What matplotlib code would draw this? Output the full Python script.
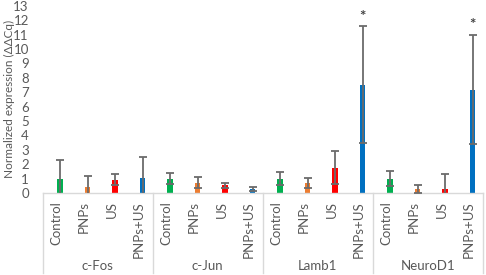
import matplotlib
matplotlib.use("Agg")
import matplotlib.pyplot as plt
import matplotlib.transforms as mtransforms

plt.rcParams['font.family'] = ['Lato', 'DejaVu Sans']

genes = ['c-Fos', 'c-Jun', 'Lamb1', 'NeuroD1']
treatments = ['Control', 'PNPs', 'US', 'PNPs+US']
colors = ['#00B050', '#ED7D31', '#FF0000', '#0070C0']

# mean expression per gene, in treatment order
means = {
    'c-Fos':   [1.0, 0.40, 0.92, 1.02],
    'c-Jun':   [1.0, 0.72, 0.52, 0.27],
    'Lamb1':   [1.0, 0.68, 1.76, 7.53],
    'NeuroD1': [1.0, 0.27, 0.28, 7.18],
}
errors = {
    'c-Fos':   [1.30, 0.80, 0.40, 1.45],
    'c-Jun':   [0.38, 0.40, 0.20, 0.14],
    'Lamb1':   [0.48, 0.37, 1.14, 4.04],
    'NeuroD1': [0.53, 0.25, 1.04, 3.79],
}
# significance marks (gene, treatment)
stars = [('Lamb1', 'PNPs+US'), ('NeuroD1', 'PNPs+US')]

text_col = '#595959'
line_col = '#D9D9D9'

fig = plt.figure(figsize=(4.86, 2.75), dpi=100)
ax = fig.add_axes([0.0879, 0.2985, 0.9053, 0.68])

nt = len(treatments)
for g, gene in enumerate(genes):
    for t, treat in enumerate(treatments):
        k = g * nt + t
        x = k + 0.13
        ax.bar(x, means[gene][t], width=0.21, color=colors[t], zorder=2)
        ax.errorbar(x, means[gene][t], yerr=errors[gene][t], fmt='none',
                    ecolor='#6b6b6b', elinewidth=1.3, capsize=2.8,
                    capthick=1.3, zorder=3)
        if (gene, treat) in stars:
            ax.text(x, means[gene][t] + errors[gene][t] + 0.2, '*',
                    ha='center', va='bottom', fontsize=11, fontweight='bold',
                    color='#404040')

ax.set_xlim(-0.5, len(genes) * nt - 0.5)
ax.set_ylim(0, 13)
ax.set_yticks(range(0, 14))
ax.tick_params(axis='y', length=0, pad=10, labelsize=9.5, labelcolor=text_col)
ax.set_xticks([])
for s in ['top', 'right', 'left']:
    ax.spines[s].set_visible(False)
ax.spines['bottom'].set_color(line_col)
ax.spines['bottom'].set_linewidth(1)
ax.set_ylabel('Normalized expression (ΔΔCq)', fontsize=8.5, color=text_col)
ax.yaxis.set_label_coords(-0.064, 0.5)

trans = mtransforms.blended_transform_factory(ax.transData, ax.transAxes)
# category labels and group separators
for g, gene in enumerate(genes):
    for t, treat in enumerate(treatments):
        k = g * nt + t
        ax.text(k, -0.045, treat, rotation=90, ha='center', va='top',
                fontsize=9.5, color=text_col, transform=trans)
    ax.text(g * nt + (nt - 1) / 2, -0.39, gene, ha='center', va='center',
            fontsize=9.5, color=text_col, transform=trans)
for b in range(len(genes) + 1):
    xb = b * nt - 0.5
    ax.plot([xb, xb], [0, -0.43], color=line_col, lw=1, transform=trans,
            clip_on=False)

fig.savefig('out.png', dpi=100)
